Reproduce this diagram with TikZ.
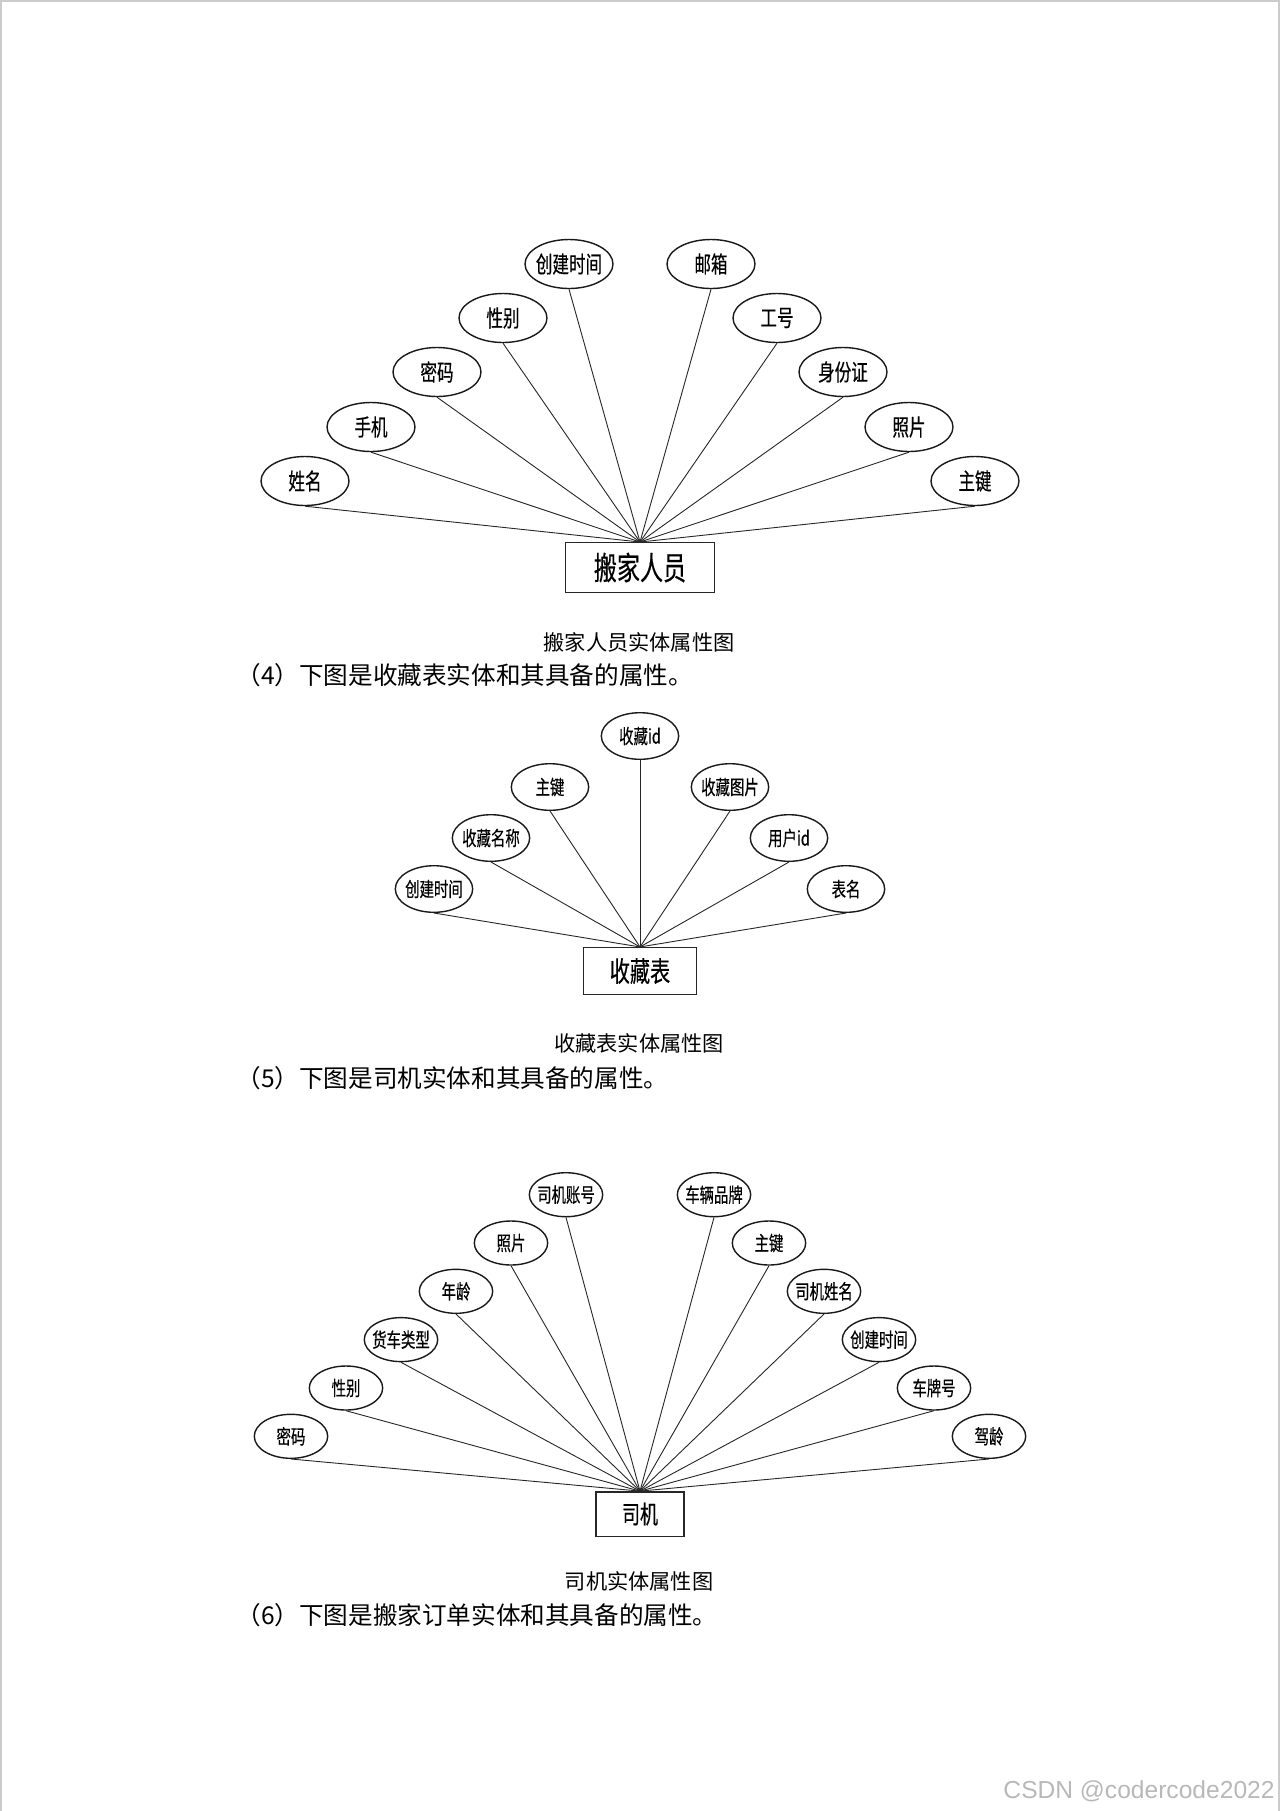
\documentclass[tikz,border=0pt]{standalone}
\usepackage{fontspec}
\usetikzlibrary{shapes.geometric}
\newfontfamily\cjk{Noto Sans CJK SC}
\newfontfamily\cjkc[FakeStretch=0.72,FakeBold=0.4]{Noto Sans CJK SC}
\newfontfamily\wmfont{Liberation Sans}
\newcommand\mb[1]{\makebox[0pt]{#1}}
\begin{document}
\begin{tikzpicture}[x=0.5pt,y=-0.5pt,
  attr/.style={ellipse, draw=black!90, line width=0.7pt, inner sep=0pt},
  attrA/.style={attr, minimum width=44pt, minimum height=24.5pt, font=\cjkc\fontsize{11.5}{12}\selectfont},
  attrB/.style={attr, minimum width=38.7pt, minimum height=23.3pt, font=\cjkc\fontsize{10}{11}\selectfont},
  attrC/.style={attr, minimum width=36.7pt, minimum height=22pt, font=\cjkc\fontsize{10}{11}\selectfont},
  ent/.style={rectangle, draw=black!85, line width=0.7pt, inner sep=0pt},
  link/.style={draw=black!85, line width=0.45pt},
  caption/.style={inner sep=0pt, font=\cjk\fontsize{10.6}{12}\selectfont},
  para/.style={inner sep=0pt, anchor=west, font=\cjk\fontsize{12.3}{14}\selectfont}
]
\useasboundingbox (0,0) rectangle (1280,1811);
% page border
\draw[color=black!20, line width=1pt] (1,1811) -- (1,1) -- (1279,1) -- (1279,1811);

% ---------- diagram 1: 搬家人员 ----------
\node[ent, minimum width=74.5pt, minimum height=24.8pt, font=\cjkc\fontsize{16}{17}\selectfont] (e1) at (640,567.5) {\mb{搬家人员}};
\node[attrA] (a1) at (305,481) {\mb{姓名}};
\node[attrA] (a2) at (371,427) {\mb{手机}};
\node[attrA] (a3) at (437,372) {\mb{密码}};
\node[attrA] (a4) at (503,318) {\mb{性别}};
\node[attrA] (a5) at (569,264) {\mb{创建时间}};
\node[attrA] (a6) at (711,264) {\mb{邮箱}};
\node[attrA] (a7) at (777,318) {\mb{工号}};
\node[attrA] (a8) at (843,372) {\mb{身份证}};
\node[attrA] (a9) at (909,427) {\mb{照片}};
\node[attrA] (a10) at (975,481) {\mb{主键}};
\foreach \i in {1,...,10} \draw[link] (a\i.south) -- (e1.north);
\node[caption] (c1) at (639,642) {搬家人员实体属性图};
\node[para] (p4) at (236,675) {（4）下图是收藏表实体和其具备的属性。};

% ---------- diagram 2: 收藏表 ----------
\node[ent, minimum width=56.75pt, minimum height=23.35pt, font=\cjkc\fontsize{14}{15}\selectfont] (e2) at (640,971) {\mb{收藏表}};
\node[attrB] (b1) at (434,889) {\mb{创建时间}};
\node[attrB] (b2) at (491,838) {\mb{收藏名称}};
\node[attrB] (b3) at (550,787) {\mb{主键}};
\node[attrB] (b4) at (640,736) {\mb{收藏id}};
\node[attrB] (b5) at (730,787) {\mb{收藏图片}};
\node[attrB] (b6) at (789,838) {\mb{用户id}};
\node[attrB] (b7) at (846,889) {\mb{表名}};
\foreach \i in {1,...,7} \draw[link] (b\i.south) -- (e2.north);
\node[caption] (c2) at (639,1043) {收藏表实体属性图};
\node[para] (p5) at (236,1078) {（5）下图是司机实体和其具备的属性。};

% ---------- diagram 3: 司机 ----------
\node[ent, minimum width=44pt, minimum height=22.2pt, font=\cjkc\fontsize{12.5}{13}\selectfont] (e3) at (640,1514) {\mb{司机}};
\node[attrC] (d1) at (566,1194.7) {\mb{司机账号}};
\node[attrC] (d2) at (511,1243) {\mb{照片}};
\node[attrC] (d3) at (456,1291.3) {\mb{年龄}};
\node[attrC] (d4) at (401,1339.6) {\mb{货车类型}};
\node[attrC] (d5) at (346,1388) {\mb{性别}};
\node[attrC] (d6) at (291,1436.3) {\mb{密码}};
\node[attrC] (d7) at (714,1194.7) {\mb{车辆品牌}};
\node[attrC] (d8) at (769,1243) {\mb{主键}};
\node[attrC] (d9) at (824,1291.3) {\mb{司机姓名}};
\node[attrC] (d10) at (879,1339.6) {\mb{创建时间}};
\node[attrC] (d11) at (934,1388) {\mb{车牌号}};
\node[attrC] (d12) at (989,1436.3) {\mb{驾龄}};
\foreach \i in {1,...,12} \draw[link] (d\i.south) -- (e3.north);
\node[caption] (c3) at (639,1581) {司机实体属性图};
\node[para] (p6) at (236,1615) {（6）下图是搬家订单实体和其具备的属性。};

% watermark
\node[inner sep=0pt, anchor=base east, text=black!28, font=\wmfont\fontsize{12.3}{14}\selectfont] (wm) at (1275,1798) {CSDN @codercode2022};
\end{tikzpicture}
\end{document}
